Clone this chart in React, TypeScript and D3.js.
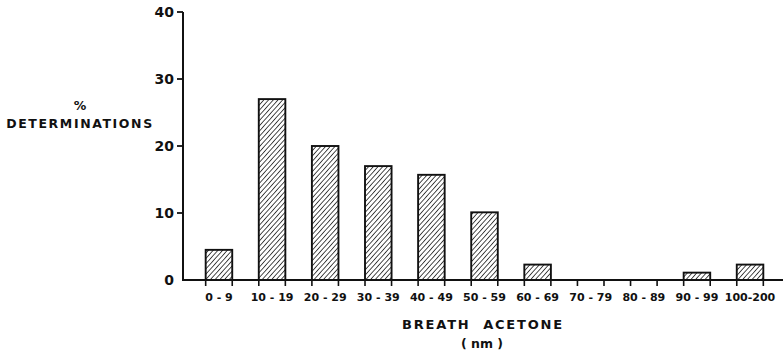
import React from "react";
import * as d3 from "d3";

const categories = ["0 - 9", "10 - 19", "20 - 29", "30 - 39", "40 - 49", "50 - 59", "60 - 69", "70 - 79", "80 - 89", "90 - 99", "100-200"];
const percentValues = [4.5, 27, 20, 17, 15.7, 10.1, 2.3, 0, 0, 1.1, 2.3];
const yTicks = [0, 10, 20, 30, 40];

const W = 783;
const H = 355;
const FONT = "'DejaVu Sans', 'Liberation Sans', sans-serif";

export default function App() {
  const x = d3.scaleBand<string>().domain(categories).range([183, 786]).paddingInner(0.5).paddingOuter(0.427);
  const y = d3.scaleLinear().domain([0, 40]).range([280, 12]);
  const bw = x.bandwidth();
  return (
    <div style={{ position: "absolute", left: 0, top: 0 }}>
      <svg width={W} height={H} style={{ display: "block", background: "#fff" }}>
        <defs>
          <pattern id="hatch" patternUnits="userSpaceOnUse" width={3.5} height={3.5} patternTransform="rotate(42)">
            <rect width={3.5} height={3.5} fill="#fff" />
            <line x1={0} y1={0} x2={0} y2={3.5} stroke="#111" strokeWidth={1.5} />
          </pattern>
        </defs>
        {categories.map((c, i) =>
          percentValues[i] > 0 ? (
            <rect key={c} x={x(c)!} y={y(percentValues[i])} width={bw} height={y(0) - y(percentValues[i])}
              fill="url(#hatch)" stroke="#111" strokeWidth={1.9} />
          ) : null
        )}
        {/* axes */}
        <line x1={183} y1={y(40)} x2={183} y2={y(0)} stroke="#111" strokeWidth={2} />
        <line x1={182} y1={y(0)} x2={W} y2={y(0)} stroke="#111" strokeWidth={2} />
        {yTicks.map((t) => (
          <g key={t}>
            {t > 0 && <line x1={177} y1={y(t)} x2={183} y2={y(t)} stroke="#111" strokeWidth={1.8} />}
            <text x={174} y={y(t)} dy="0.36em" textAnchor="end" fontFamily={FONT} fontWeight="bold" fontSize={14} fill="#111">
              {t}
            </text>
          </g>
        ))}
        {categories.map((c) => (
          <g key={"t" + c}>
            <line x1={x(c)!} y1={y(0)} x2={x(c)!} y2={y(0) + 6} stroke="#111" strokeWidth={1.6} />
            <line x1={x(c)! + bw} y1={y(0)} x2={x(c)! + bw} y2={y(0) + 6} stroke="#111" strokeWidth={1.6} />
            <text x={x(c)! + bw / 2} y={297} dy="0.36em" textAnchor="middle" fontFamily={FONT} fontWeight="bold" fontSize={11} fill="#111">
              {c}
            </text>
          </g>
        ))}
        <text x={80} y={105} dy="0.36em" textAnchor="middle" fontFamily={FONT} fontWeight="bold" fontSize={12.5} fill="#111">%</text>
        <text x={80} y={123} dy="0.36em" textAnchor="middle" fontFamily={FONT} fontWeight="bold" fontSize={12.5} letterSpacing={1.6} fill="#111">DETERMINATIONS</text>
        <text x={483} y={324} dy="0.36em" textAnchor="middle" fontFamily={FONT} fontWeight="bold" fontSize={13} letterSpacing={1.8} fill="#111" style={{ whiteSpace: "pre" }}>BREATH  ACETONE</text>
        <text x={482} y={343} dy="0.36em" textAnchor="middle" fontFamily={FONT} fontWeight="bold" fontSize={12.5} fill="#111" style={{ whiteSpace: "pre" }}>( nm )</text>
      </svg>
    </div>
  );
}
